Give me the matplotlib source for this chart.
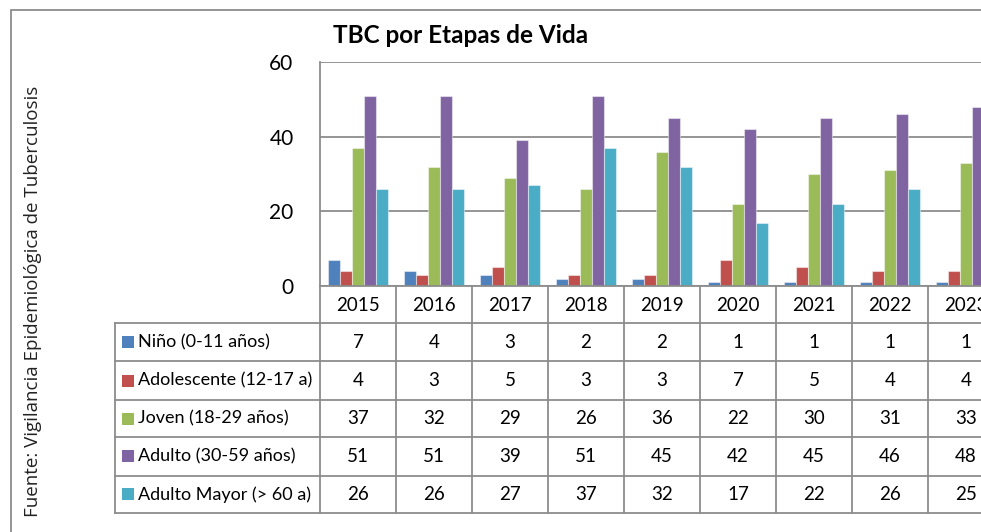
import matplotlib
matplotlib.use("Agg")
import matplotlib.pyplot as plt
import matplotlib.transforms as mtransforms
from matplotlib.patches import Rectangle
from matplotlib.lines import Line2D
import numpy as np

years = ["2015", "2016", "2017", "2018", "2019", "2020", "2021", "2022", "2023"]
series_names = ["Niño (0-11 años)", "Adolescente (12-17 a)", "Joven (18-29 años)",
                "Adulto (30-59 años)", "Adulto Mayor (> 60 a)"]
nino = [7, 4, 3, 2, 2, 1, 1, 1, 1]
adolescente = [4, 3, 5, 3, 3, 7, 5, 4, 4]
joven = [37, 32, 29, 26, 36, 22, 30, 31, 33]
adulto = [51, 51, 39, 51, 45, 42, 45, 46, 48]
adulto_mayor = [26, 26, 27, 37, 32, 17, 22, 26, 25]
series_values = [nino, adolescente, joven, adulto, adulto_mayor]
colors = ["#4F81BD", "#C0504D", "#9BBB59", "#8064A2", "#4BACC6"]
title = "TBC por Etapas de Vida"
source = "Fuente: Vigilancia Epidemiológica de Tuberculosis"

W, H = 981, 532
fig = plt.figure(figsize=(W / 100, H / 100), dpi=100)
GRAY = "#8C8C8C"
FONT = "Lato"

# pixel geometry
px_left, px_top, px_bottom = 320, 62, 286
col_w = 76
ncat = len(years)
px_right = px_left + col_w * ncat
ax = fig.add_axes([px_left / W, 1 - px_bottom / H, (px_right - px_left) / W, (px_bottom - px_top) / H])

nser = len(series_values)
group = 60 / 76
bw = group / nser
x = np.arange(ncat)
for i, (vals, c) in enumerate(zip(series_values, colors)):
    ax.bar(x - group / 2 + bw * (i + 0.5), vals, width=bw, color=c,
           edgecolor=(1, 1, 1, 0.45), linewidth=0.8, zorder=3)

ax.set_xlim(-0.5, ncat - 0.5)
ax.set_ylim(0, 60)
ax.set_yticks([0, 20, 40, 60])
ax.set_yticklabels(["0", "20", "40", "60"], fontsize=15, family=FONT)
ax.tick_params(axis="y", length=0, pad=19)
ax.tick_params(axis="x", length=0, labelbottom=False)
ax.set_xticks([])
ax.grid(axis="y", color=GRAY, linewidth=1.3, zorder=0)
for s in ["top", "right"]:
    ax.spines[s].set_visible(False)
ax.spines["left"].set_color(GRAY)
ax.spines["left"].set_linewidth(1.3)
ax.spines["bottom"].set_color(GRAY)
ax.spines["bottom"].set_linewidth(1.3)
ax.spines["bottom"].set_zorder(4)

def yax(ypx):
    return (px_bottom - ypx) / (px_bottom - px_top)

def xax(xpx):
    return (xpx - px_left) / (px_right - px_left)

blend = mtransforms.blended_transform_factory(ax.transData, ax.transAxes)

row_edges = [286, 323, 361, 400, 437, 475.5, 513]
table_left = 115
# horizontal lines of table
for k, ypx in enumerate(row_edges[1:]):
    ax.add_line(Line2D([xax(table_left), xax(1100)], [yax(ypx)] * 2, transform=ax.transAxes,
                       color=GRAY, linewidth=1.3, clip_on=False))
# vertical lines
ax.add_line(Line2D([xax(table_left)] * 2, [yax(323), yax(513)], transform=ax.transAxes,
                   color=GRAY, linewidth=1.3, clip_on=False))
for i in range(ncat + 1):
    ax.add_line(Line2D([i - 0.5] * 2, [yax(286), yax(513)], transform=blend,
                       color=GRAY, linewidth=1.3, clip_on=False))

# header years
for i, yr in enumerate(years):
    ax.text(i, yax((286 + 323) / 2 + 1), yr, transform=blend, ha="center", va="center",
            fontsize=13.5, family=FONT, clip_on=False)

# rows
for r, (name, vals, c) in enumerate(zip(series_names, series_values, colors)):
    yc = yax((row_edges[r + 1] + row_edges[r + 2]) / 2)
    ax.add_patch(Rectangle((xax(122), yc - 6 / 224), 12 / 684, 12 / 224, transform=ax.transAxes,
                           facecolor=c, edgecolor="none", clip_on=False))
    ax.text(xax(138), yc, name, transform=ax.transAxes, ha="left", va="center",
            fontsize=13, family=FONT, clip_on=False)
    for i, v in enumerate(vals):
        ax.text(i, yc, str(v), transform=blend, ha="center", va="center",
                fontsize=13.5, family=FONT, clip_on=False)

fig.text(461 / W, 1 - 43 / H, title, ha="center", va="baseline", fontsize=17.5,
         fontweight="bold", family=FONT)
fig.text(33 / W, 1 - 301 / H, source, ha="center", va="center", rotation=90,
         fontsize=13.5, family="Open Sans", color="#222222")

fig.add_artist(Rectangle((11 / W, 1 - 600 / H), 1100 / W, 590 / H, transform=fig.transFigure,
                         facecolor="none", edgecolor=GRAY, linewidth=1.3))

fig.savefig("out.png", dpi=100)
